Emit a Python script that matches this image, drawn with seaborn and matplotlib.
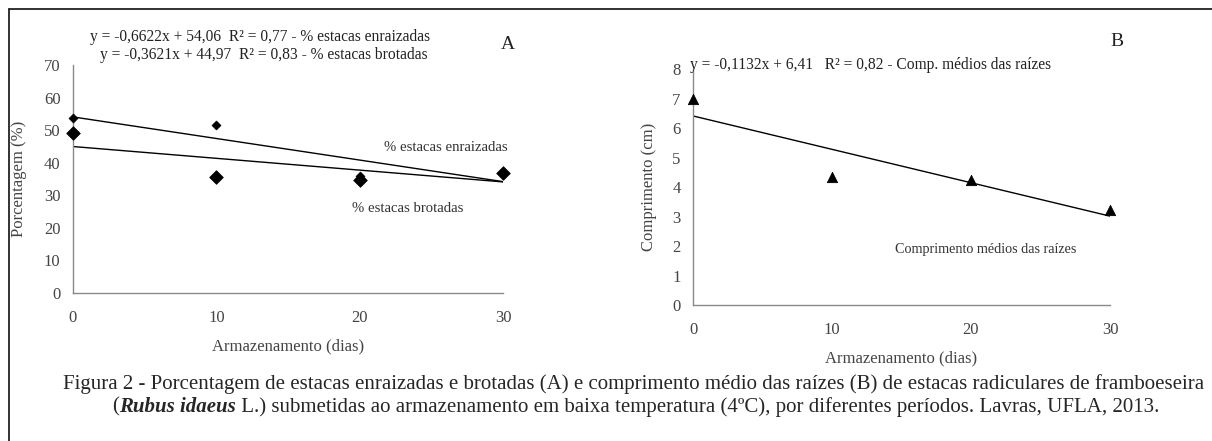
import numpy as np
import pandas as pd
import matplotlib.pyplot as plt
import seaborn as sns
from matplotlib.lines import Line2D

# Data
dias = [0, 10, 20, 30]
enraizadas = [53.8, 51.6, 36.0, 36.7]
brotadas = [49.0, 35.7, 34.7, 36.7]
comprimento = [6.97, 4.35, 4.24, 3.22]

# regression coefficients printed on the chart (slope, intercept)
coef_enraizadas = (-0.6622, 54.06)
coef_brotadas = (-0.3621, 44.97)
coef_comprimento = (-0.1132, 6.41)

eq_enraizadas = "y = -0,6622x + 54,06  R² = 0,77 - % estacas enraizadas"
eq_brotadas = "y = -0,3621x + 44,97  R² = 0,83 - % estacas brotadas"
eq_comprimento = "y = -0,1132x + 6,41   R² = 0,82 - Comp. médios das raízes"

caption1 = ("Figura 2 - Porcentagem de estacas enraizadas e brotadas (A) e comprimento médio das raízes (B) "
            "de estacas radiculares de framboeseira")
caption2_pre = "("
caption2_bold = "Rubus idaeus"
caption2_post = (" L.) submetidas ao armazenamento em baixa temperatura (4ºC), por diferentes períodos. "
                 "Lavras, UFLA, 2013.")

sns.set_style("white")
plt.rcParams['font.family'] = ['Liberation Serif', 'DejaVu Serif']

df = pd.DataFrame({'dias': dias, 'enraizadas': enraizadas,
                   'brotadas': brotadas, 'comprimento': comprimento})
xfit = np.array([dias[0], dias[-1]])

fig = plt.figure(figsize=(12.12, 4.41), dpi=100)
axA = fig.add_axes([0.0602, 0.3356, 0.3548, 0.517])
axB = fig.add_axes([0.5718, 0.3084, 0.344, 0.535])

spine_col = '#8a8a8a'
tick_col = '#444444'


def style_axis(ax, ymax, ystep):
    ax.set_xlim(0, 30)
    ax.set_ylim(0, ymax)
    ax.set_xticks(dias)
    ax.set_yticks(np.arange(0, ymax + 0.1, ystep))
    for s in ['top', 'right']:
        ax.spines[s].set_visible(False)
    for s in ['left', 'bottom']:
        ax.spines[s].set_color(spine_col)
        ax.spines[s].set_linewidth(1.0)
    ax.tick_params(axis='both', direction='out', length=4, width=1, color=spine_col,
                   labelcolor=tick_col, labelsize=12, pad=5)
    ax.tick_params(axis='x', pad=8)
    ax.set_xlabel('Armazenamento (dias)', fontsize=12, color=tick_col, labelpad=9)


# Panel A
sns.lineplot(x=xfit, y=coef_enraizadas[1] + coef_enraizadas[0] * xfit, ax=axA,
             color='black', linewidth=1.0)
sns.lineplot(x=xfit, y=coef_brotadas[1] + coef_brotadas[0] * xfit, ax=axA,
             color='black', linewidth=1.0)
sns.scatterplot(data=df, x='dias', y='enraizadas', ax=axA, marker='D', s=22,
                color='black', edgecolor='black', clip_on=False, zorder=3)
sns.scatterplot(data=df, x='dias', y='brotadas', ax=axA, marker='D', s=48,
                color='black', edgecolor='black', clip_on=False, zorder=3)
style_axis(axA, 70, 10)
axA.set_ylabel('Porcentagem (%)', fontsize=12, color=tick_col, labelpad=12)
axA.text(21.7, 43.5, '% estacas enraizadas', fontsize=10.6, color='#333333')
axA.text(19.5, 25.0, '% estacas brotadas', fontsize=10.6, color='#333333')

# Panel B
sns.lineplot(x=xfit, y=coef_comprimento[1] + coef_comprimento[0] * xfit, ax=axB,
             color='black', linewidth=1.0)
sns.scatterplot(data=df, x='dias', y='comprimento', ax=axB, marker='^', s=55,
                color='black', edgecolor='black', clip_on=False, zorder=3)
style_axis(axB, 8, 1)
axB.set_ylabel('Comprimento (cm)', fontsize=12, color=tick_col, labelpad=11)
axB.text(14.5, 1.75, 'Comprimento médios das raízes', fontsize=10.2, color='#333333')

# equations and panel letters
fig.text(0.0743, 0.916, eq_enraizadas, fontsize=11.2, color='#222222', va='center')
fig.text(0.0825, 0.875, eq_brotadas, fontsize=11.2, color='#222222', va='center')
fig.text(0.419, 0.898, 'A', fontsize=14, color='#222222', ha='center', va='center')
fig.text(0.5693, 0.853, eq_comprimento, fontsize=11.2, color='#222222', va='center')
fig.text(0.9215, 0.905, 'B', fontsize=14, color='#222222', ha='center', va='center')

# caption
cap_size = 15
fig.text(0.052, 1 - 384 / 441, caption1, fontsize=cap_size, va='center')
t = fig.text(0.0925, 1 - 407 / 441, caption2_pre, fontsize=cap_size, va='center')
fig.canvas.draw()
r = fig.canvas.get_renderer()
bb = t.get_window_extent(r)
t2 = fig.text(bb.x1 / fig.bbox.width, 1 - 407 / 441, caption2_bold, fontsize=cap_size,
              va='center', fontweight='bold', fontstyle='italic')
bb2 = t2.get_window_extent(r)
fig.text(bb2.x1 / fig.bbox.width, 1 - 407 / 441, caption2_post, fontsize=cap_size, va='center')

# frame around the figure (top and left edges visible)
fig.add_artist(Line2D([9 / 1212, 9 / 1212], [0, 1 - 9 / 441], color='#222222', lw=1.3))
fig.add_artist(Line2D([9 / 1212, 1], [1 - 9 / 441, 1 - 9 / 441], color='#222222', lw=1.3))

fig.savefig('out.png', dpi=100)
